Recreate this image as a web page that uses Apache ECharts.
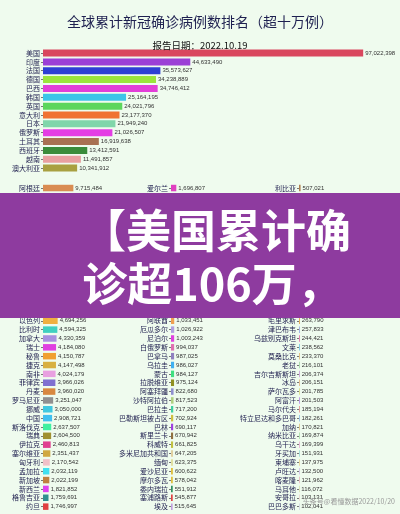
<!DOCTYPE html>
<html><head><meta charset="utf-8">
<script src="https://cdn.jsdelivr.net/npm/echarts@6/dist/echarts.min.js"></script>
<style>html,body{margin:0;padding:0;background:#effbee}#c{width:400px;height:514px}</style>
</head><body><div id="c"></div>
<script>
const titleText = '全球累计新冠确诊病例数排名（超十万例）';
const subText = '报告日期：2022.10.19';
const bannerLines = ['【美国累计确', '诊超106万，'];
const watermark = '头条号@看懂数据2022/10/20';

const topCats = ['美国','印度','法国','德国','巴西','韩国','英国','意大利','日本','俄罗斯','土耳其','西班牙','越南','澳大利亚'];
const topVals = [97022398,44633490,35573627,34238889,34746412,25164195,24021796,23177370,21949240,21026507,16919638,13412591,11491857,10341912];
const topColors = ['#d9475e','#9b3fd6','#2e3fd4','#9be53c','#e23ed8','#3cc4e8','#5cd65c','#f07232','#80d6aa','#e43ee4','#a87152','#3a8c3a','#e8a0a0','#a8a040'];

const leftCats = ['阿根廷','荷兰','伊朗','墨西哥','印度尼西亚','波兰','哥伦比亚','葡萄牙','奥地利','乌克兰','希腊','马来西亚','朝鲜','泰国','智利','以色列','比利时','加拿大','瑞士','秘鲁','捷克','南非','菲律宾','丹麦','罗马尼亚','挪威','中国','斯洛伐克','瑞典','伊拉克','塞尔维亚','匈牙利','孟加拉','新加坡','新西兰','格鲁吉亚','约旦'];
const leftVals = [9715484,8550000,7560000,7100000,6450000,6340000,6310000,5500000,5420000,5150000,5100000,4850000,4772813,4710000,4700000,4694256,4594325,4330359,4184080,4150787,4147498,4024179,3966026,3960020,3251047,3050000,2908721,2637507,2604500,2460813,2351437,2170542,2032119,2022199,1821852,1759691,1746997];
const leftColors = ['#d98c52','#c06040','#50a0d0','#d05050','#60c060','#e080c0','#80a0e0','#e0b050','#60d0d0','#a070d0','#d0d060','#e06090','#70c090','#b08050','#90b0e0','#f0b040','#40d0c0','#a890e0','#e040e0','#f0a030','#d8b040','#e8a0e0','#8070d0','#d88840','#909090','#40c8e0','#40c0f0','#40f0a0','#a09030','#e04090','#d0a840','#f0c0c8','#40e0f0','#c08040','#e040f0','#309090','#e04040'];

const midCats = ['爱尔兰','巴基斯坦','哈萨克斯坦','斯洛文尼亚','摩洛哥','保加利亚','立陶宛','克罗地亚','黎巴嫩','哥斯达黎加','突尼斯','危地马拉','古巴','玻利维亚','波多黎各','阿联酋','厄瓜多尔','尼泊尔','白俄罗斯','巴拿马','乌拉圭','蒙古','拉脱维亚','阿塞拜疆','沙特阿拉伯','巴拉圭','巴勒斯坦被占区','巴林','斯里兰卡','科威特','多米尼加共和国','缅甸','爱沙尼亚','摩尔多瓦','委内瑞拉','塞浦路斯','埃及'];
const midVals = [1696807,1572000,1400000,1290000,1265000,1255000,1240000,1230000,1215000,1170000,1147000,1145000,1111000,1108000,1050000,1033451,1026922,1003243,994037,987025,986027,984127,975124,822680,817523,717200,702924,690117,670942,661825,647205,623375,600622,578042,551912,545877,515645];
const midColors = ['#e040c0','#d09050','#70b0e0','#e07070','#90d070','#c080e0','#60c0a0','#e0a040','#a0a0e0','#e06060','#60e0a0','#c0c040','#e090b0','#5090d0','#b0b050','#f0a050','#b0a0e0','#e040e0','#e070b0','#9080c0','#40b0f0','#40e080','#909020','#9090d0','#b0d080','#40d0a0','#d0c040','#a040e0','#907040','#c0c040','#e0d0a0','#e0e0a0','#e0c040','#e0c040','#309060','#e04040','#c0a0e0'];

const rightCats = ['利比亚','埃塞俄比亚','洪都拉斯','卡塔尔','亚美尼亚','波黑','阿曼','北马其顿','肯尼亚','赞比亚','阿尔巴尼亚','博茨瓦纳','卢森堡','阿尔及利亚','黑山','毛里求斯','津巴布韦','乌兹别克斯坦','文莱','莫桑比克','老挝','吉尔吉斯斯坦','冰岛','萨尔瓦多','阿富汗','马尔代夫','特立尼达和多巴哥','加纳','纳米比亚','乌干达','牙买加','柬埔寨','卢旺达','喀麦隆','马耳他','安哥拉','巴巴多斯'];
const rightVals = [507021,494000,470000,460000,445000,399000,398000,345000,339000,333000,332000,326000,300000,290000,283191,263790,257833,244421,238562,233370,216101,206374,206151,201785,201503,185194,182261,170821,169874,169399,151931,137975,132500,121962,116072,103131,102041];
const rightColors = ['#b08050','#d09050','#70b0e0','#e07070','#90d070','#c080e0','#60c0a0','#e0a040','#a0a0e0','#e06060','#60e0a0','#c0c040','#e090b0','#5090d0','#b0b050','#e0a040','#90a0e0','#e060a0','#60c0e0','#e0b060','#90d090','#c080d0','#e0a060','#d0d060','#a060e0','#e06060','#60a0e0','#d0a040','#80d080','#e080c0','#60c0c0','#e0b040','#b080e0','#e06080','#c0c060','#e0a0a0','#a0a0d0'];

const fmt = v => String(v).replace(/\B(?=(\d{3})+(?!\d))/g, ',');
const CJK = '"Noto Sans CJK SC", sans-serif';

function mk(vals, colors, gi, barW) {
  return {
    type: 'bar', xAxisIndex: gi, yAxisIndex: gi, barWidth: barW,
    data: vals.map((v, i) => ({ value: v, itemStyle: { color: colors[i % colors.length] } })),
    label: { show: true, position: 'right', distance: 2, fontSize: 6, color: '#333', fontFamily: 'Liberation Sans, sans-serif', formatter: p => fmt(p.value) },
    animation: false
  };
}
function yAx(cats, gi) {
  return { type: 'category', gridIndex: gi, data: cats, inverse: true,
    axisLine: { show: false }, axisTick: { show: true, length: 2, lineStyle: { color: '#777' }, alignWithLabel: true },
    axisLabel: { fontSize: 7, color: '#1e1e4e', margin: 3, fontFamily: CJK, interval: 0 } };
}
function xAx(gi, max) {
  return { type: 'value', gridIndex: gi, min: 0, max: max, show: false };
}
const rowH = 8.85;
const grids = [
  { left: 43, top: 48.6, width: 330, height: 14 * rowH },
  { left: 43, top: 183.6, width: 100, height: 37 * rowH },
  { left: 171, top: 183.6, width: 100, height: 37 * rowH },
  { left: 299, top: 183.6, width: 100, height: 37 * rowH }
];
const chart = echarts.init(document.getElementById('c'));
chart.setOption({
  backgroundColor: '#effbee',
  title: [
    { text: titleText, left: 'center', top: 10, textStyle: { fontSize: 14, fontWeight: 'normal', color: '#1e2050', fontFamily: CJK } },
    { text: subText, left: 'center', top: 36, textStyle: { fontSize: 9.5, fontWeight: 'normal', color: '#111', fontFamily: CJK } }
  ],
  grid: grids,
  xAxis: [xAx(0, 100000000), xAx(1, 32000000), xAx(2, 32000000), xAx(3, 32000000)],
  yAxis: [yAx(topCats, 0), yAx(leftCats, 1), yAx(midCats, 2), yAx(rightCats, 3)],
  series: [mk(topVals, topColors, 0, 7), mk(leftVals, leftColors, 1, 6.5), mk(midVals, midColors, 2, 6.5), mk(rightVals, rightColors, 3, 6.5)],
  graphic: [
    { type: 'rect', shape: { x: 0, y: 193, width: 400, height: 125 }, style: { fill: '#8e3b9f' }, z: 100 },
    { type: 'text', z: 101, style: { text: bannerLines[0], x: 216, y: 231, textAlign: 'center', textVerticalAlign: 'middle', font: 'bold 45px "Noto Sans CJK SC"', fill: '#ffffff' } },
    { type: 'text', z: 101, style: { text: bannerLines[1], x: 212, y: 284, textAlign: 'center', textVerticalAlign: 'middle', font: 'bold 45px "Noto Sans CJK SC"', fill: '#ffffff' } },
    { type: 'text', z: 101, style: { text: watermark, x: 395, y: 501, textAlign: 'right', textVerticalAlign: 'middle', font: '7px "Noto Sans CJK SC"', fill: '#999' } }
  ]
});
</script></body></html>
